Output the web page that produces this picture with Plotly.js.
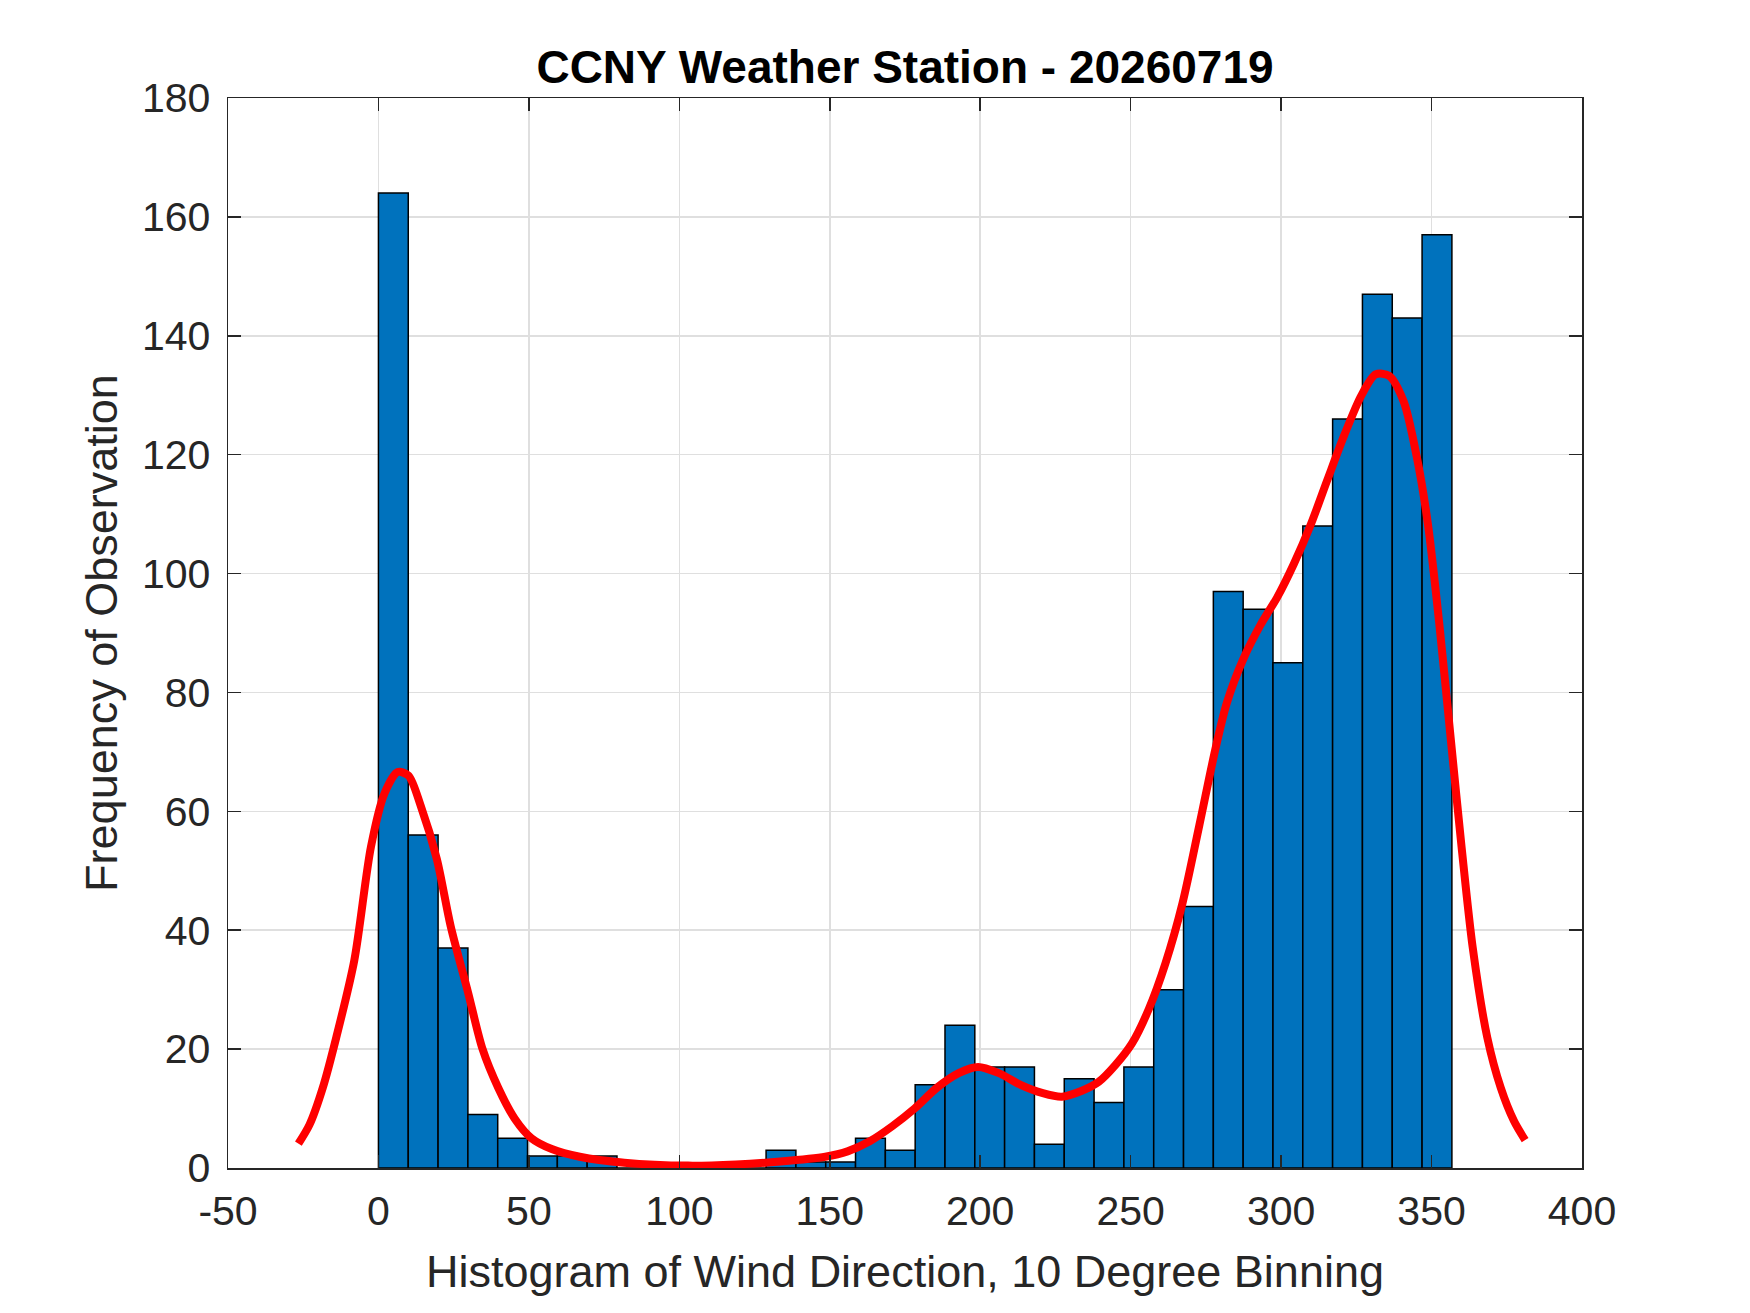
<!DOCTYPE html>
<html>
<head>
<meta charset="utf-8">
<script src="https://cdn.plot.ly/plotly-3.0.1.min.js"></script>
<style>
  body { margin: 0; background: #fff; }
  #chart { width: 1750px; height: 1313px; }
</style>
</head>
<body>
<div id="chart"></div>
<script>
// histogram of wind direction, 36 bins from 0 to ~357 deg
var binStart = 0
var binWidth = 9.91
var counts = [164, 56, 37, 9, 5, 2, 2, 2, 0, 0,
              0, 0, 0, 3, 1, 1, 5, 3, 14, 24,
              17, 17, 4, 15, 11, 17, 30, 44, 97, 94,
              85, 108, 126, 147, 143, 157]

// red density-style fit
var curveX = [-26.6, -22.9, -18.5, -14, -8, -2.5, 2, 6.4, 10, 14,
              19.4, 24, 29.8, 34.6, 39.8, 45.3, 50.9, 57.6, 66.9, 81.7,
              102.9, 118.8, 133.6, 148.5, 155.9, 163.3, 170.7, 178.2, 185.6, 193,
              199.3, 206, 213.4, 220.8, 227.1, 233.8, 239.4, 244.9, 250.5, 256,
              261.6, 267.2, 272.8, 278.3, 282, 287.6, 293.2, 298.7, 304.3, 309.9,
              315.4, 321, 326.6, 331.4, 335.8, 340.7, 345.1, 348.8, 352.6, 356.3,
              360, 363.7, 368.5, 373, 377.4, 381.1]
var curveY = [4.1, 7.3, 13.5, 22, 35, 54, 63, 66.6, 66, 61,
              52, 40.7, 29.5, 20, 13.5, 8.3, 5, 3.2, 1.9, 0.9,
              0.4, 0.6, 1.1, 1.9, 2.8, 4.5, 7, 10, 13.5, 16,
              17, 16, 14, 12.6, 12, 13, 14.5, 17.3, 21, 26.7,
              34.5, 44.5, 57.6, 70.8, 78.3, 85.8, 91.4, 96, 101.7, 108.3,
              115.8, 123.3, 129.9, 133.5, 133.3, 129, 119.6, 108.3, 91.4, 72.6,
              53.9, 37, 22, 13.5, 7.9, 4.7]

var xTicks = [-50, 0, 50, 100, 150, 200, 250, 300, 350, 400]
var xTickText = ['-50', '0', '50', '100', '150', '200', '250', '300', '350', '400']
var yTicks = [0, 20, 40, 60, 80, 100, 120, 140, 160, 180]

var binLeft = counts.map(function (c, i) { return binStart + i * binWidth })

var axisColor = '#262626'
var fontFam = 'Liberation Sans, Arial, Helvetica, sans-serif'

var barTrace = {
  type: 'bar',
  x: binLeft,
  y: counts,
  width: binWidth,
  offset: 0,
  marker: {
    color: '#0072BD',
    line: { color: '#000000', width: 1.5 }
  },
  hoverinfo: 'x+y',
  showlegend: false
}

var fitTrace = {
  type: 'scatter',
  mode: 'lines',
  x: curveX,
  y: curveY,
  line: { color: '#FF0000', width: 8, shape: 'spline', smoothing: 0.8 },
  showlegend: false
}

var layout = {
  width: 1750,
  height: 1313,
  paper_bgcolor: '#ffffff',
  plot_bgcolor: '#ffffff',
  margin: { l: 228, r: 168, t: 98, b: 145 },
  bargap: 0,
  font: { family: fontFam, color: axisColor },
  title: {
    text: '<b>CCNY Weather Station - 20260719</b>',
    font: { family: fontFam, size: 46, color: '#000000' },
    x: 0.5,
    xref: 'paper',
    y: 1 - 67 / 1313,
    yref: 'container',
    yanchor: 'middle'
  },
  xaxis: {
    range: [-50, 400],
    tickvals: xTicks,
    ticktext: xTickText,
    ticks: 'inside',
    ticklen: 13,
    tickwidth: 1.5,
    tickcolor: axisColor,
    ticklabelstandoff: 6,
    showline: true,
    linecolor: axisColor,
    linewidth: 1.5,
    mirror: 'ticks',
    showgrid: true,
    gridcolor: '#dfdfdf',
    gridwidth: 1.5,
    zeroline: false,
    tickfont: { family: fontFam, size: 41, color: axisColor },
    title: {
      text: 'Histogram of Wind Direction, 10 Degree Binning',
      font: { family: fontFam, size: 45, color: axisColor },
      standoff: 23
    }
  },
  yaxis: {
    range: [0, 180],
    tickvals: yTicks,
    ticks: 'inside',
    ticklen: 13,
    tickwidth: 1.5,
    tickcolor: axisColor,
    ticklabelstandoff: 8,
    showline: true,
    linecolor: axisColor,
    linewidth: 1.5,
    mirror: 'ticks',
    showgrid: true,
    gridcolor: '#dfdfdf',
    gridwidth: 1.5,
    zeroline: false,
    tickfont: { family: fontFam, size: 41, color: axisColor },
    title: {
      text: 'Frequency of Observation',
      font: { family: fontFam, size: 45, color: axisColor },
      standoff: 10
    }
  }
}

Plotly.newPlot('chart', [barTrace, fitTrace], layout, { displayModeBar: false, staticPlot: true })
</script>
</body>
</html>
